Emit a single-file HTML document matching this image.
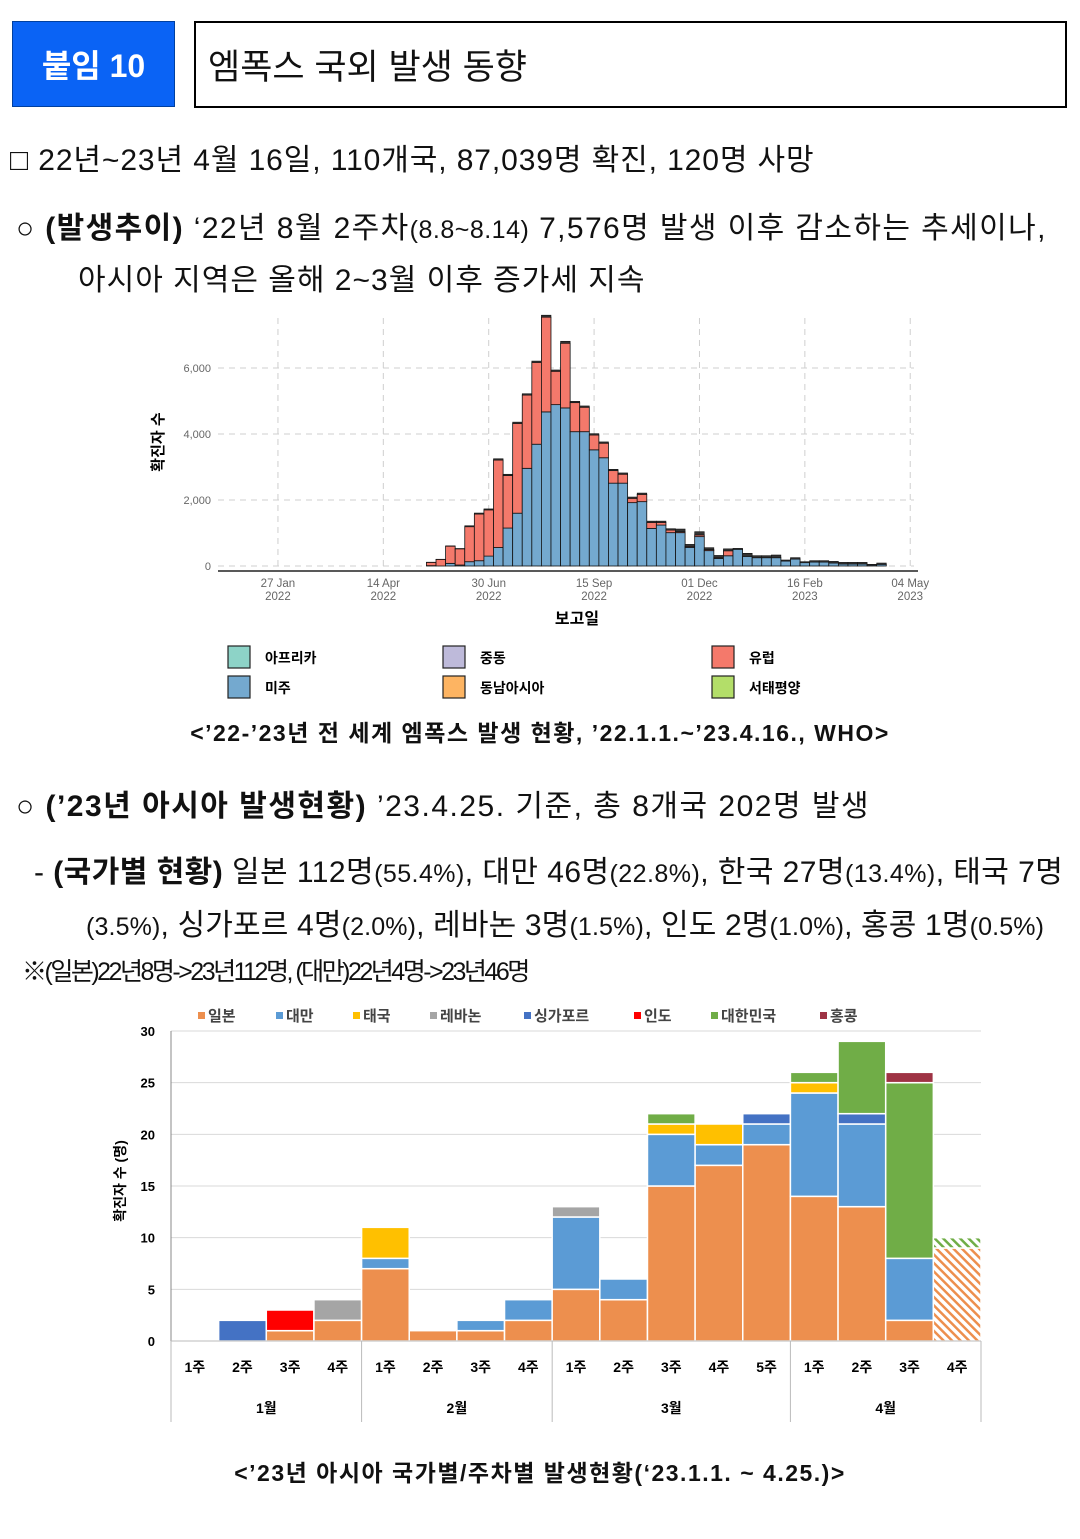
<!DOCTYPE html>
<html><head><meta charset="utf-8">
<style>
body{margin:0;width:1080px;height:1539px;position:relative;background:#fff;font-family:"Liberation Sans","Noto Sans CJK KR",sans-serif;color:#111;overflow:hidden}
.t{position:absolute;white-space:nowrap;line-height:1}
.s{font-size:25px}
svg{position:absolute;left:0;top:0}
</style></head><body>
<div style="position:absolute;left:12px;top:21px;width:163px;height:86px;background:#0a63f5;border:1px solid #0040a0;box-sizing:border-box;color:#fff;font-weight:bold;font-size:32px;display:flex;align-items:center;justify-content:center;font-family:'Liberation Sans','Noto Sans CJK KR',sans-serif">붙임 10</div>
<div style="position:absolute;left:194px;top:21px;width:873px;height:87px;border:2px solid #000;box-sizing:border-box;font-size:35px;padding-left:12px;display:flex;align-items:center">엠폭스 국외 발생 동향</div>
<div class="t" style="left:10px;top:146px;font-size:30px;letter-spacing:0.9px">□ 22년~23년 4월 16일, 110개국, 87,039명 확진, 120명 사망</div>
<div class="t" style="left:16px;top:214px;font-size:30px;letter-spacing:1.4px">○ <b>(발생추이)</b> ‘22년 8월 2주차<span class="s" style="letter-spacing:0.5px">(8.8~8.14)</span> 7,576명 발생 이후 감소하는 추세이나,</div>
<div class="t" style="left:78px;top:266px;font-size:30px;letter-spacing:1px">아시아 지역은 올해 2~3월 이후 증가세 지속</div>
<div class="t" style="left:0;width:1080px;text-align:center;top:722px;font-size:23px;font-weight:bold;letter-spacing:1.5px">&lt;’22-’23년 전 세계 엠폭스 발생 현황, ’22.1.1.~’23.4.16., WHO&gt;</div>
<div class="t" style="left:16px;top:792px;font-size:30px;letter-spacing:1.5px">○ <b>(’23년 아시아 발생현황)</b> ’23.4.25. 기준, 총 8개국 202명 발생</div>
<div class="t" style="left:34px;top:858px;font-size:30px;letter-spacing:0.45px">- <b>(국가별 현황)</b> 일본 112명<span class="s">(55.4%)</span>, 대만 46명<span class="s">(22.8%)</span>, 한국 27명<span class="s">(13.4%)</span>, 태국 7명</div>
<div class="t" style="left:86px;top:911px;font-size:30px;letter-spacing:0.15px"><span class="s">(3.5%)</span>, 싱가포르 4명<span class="s">(2.0%)</span>, 레바논 3명<span class="s">(1.5%)</span>, 인도 2명<span class="s">(1.0%)</span>, 홍콩 1명<span class="s">(0.5%)</span></div>
<div class="t" style="left:22px;top:960px;font-size:25px;letter-spacing:-2.5px">※(일본)22년8명-&gt;23년112명, (대만)22년4명-&gt;23년46명</div>
<div class="t" style="left:0;width:1080px;text-align:center;top:1462px;font-size:23px;font-weight:bold;letter-spacing:1.5px">&lt;’23년 아시아 국가별/주차별 발생현황(‘23.1.1. ~ 4.25.)&gt;</div>

<svg id="c" width="1080" height="1539">
<defs><pattern id="hatchO" width="6" height="6" patternUnits="userSpaceOnUse" patternTransform="rotate(-45)"><rect width="6" height="6" fill="#fff"/><rect width="2.5" height="6" fill="#ed8f4e"/></pattern>
<pattern id="hatchG" width="6" height="6" patternUnits="userSpaceOnUse" patternTransform="rotate(-45)"><rect width="6" height="6" fill="#fff"/><rect width="2.5" height="6" fill="#70ad47"/></pattern></defs>
</svg>
<script>
// ---- chart 1 data (weekly, from Jan 2022)
const c1Americas=[0,0,0,0,0,0,0,0,0,0,0,0,0,0,0,0,0,0,10,0,80,30,130,160,300,560,1150,1600,2960,3690,4670,4890,4790,4070,4070,3520,3280,2510,2510,1920,1950,1140,1240,1010,1010,565,890,465,230,310,505,290,250,250,250,150,210,100,120,120,90,60,60,60,30,50];
const c1Europe=[0,0,0,0,0,0,0,0,0,0,0,0,0,0,0,0,0,0,100,200,520,490,1060,1415,1400,2650,1590,2720,2220,2480,2870,1010,1960,880,740,450,440,380,270,130,220,180,80,80,30,30,50,30,30,150,0,0,0,0,0,0,0,0,0,0,0,0,0,0,0,0];
const c1Other=[0,0,0,0,0,0,0,0,0,0,0,0,0,0,0,0,0,0,5,5,10,10,30,30,30,40,40,40,40,40,60,40,60,40,40,40,40,40,40,40,40,40,40,40,80,60,100,60,60,60,30,95,63,63,83,32,43,31,42,42,50,50,50,50,20,40];
const c1YTicks=[0,2000,4000,6000];
const c1YLabels=["0","2,000","4,000","6,000"];
const c1XTickWeeks=[2.5,13.5,24.5,35.5,46.5,57.5,68.5];
const c1XLabels=[["27 Jan","2022"],["14 Apr","2022"],["30 Jun","2022"],["15 Sep","2022"],["01 Dec","2022"],["16 Feb","2023"],["04 May","2023"]];
// ---- chart 2 data
const c2Weeks=["1주","2주","3주","4주","1주","2주","3주","4주","1주","2주","3주","4주","5주","1주","2주","3주","4주"];
const c2Months=["1월","2월","3월","4월"];
const c2MonthSpan=[4,4,5,4];
const c2Names=["일본","대만","태국","레바논","싱가포르","인도","대한민국","홍콩"];
const c2Japan=[0,0,1,2,7,1,1,2,5,4,15,17,19,14,13,2,9];
const c2Taiwan=[0,0,0,0,1,0,1,2,7,2,5,2,2,10,8,6,0];
const c2Thai=[0,0,0,0,3,0,0,0,0,0,1,2,0,1,0,0,0];
const c2Lebanon=[0,0,0,2,0,0,0,0,1,0,0,0,0,0,0,0,0];
const c2Singapore=[0,2,0,0,0,0,0,0,0,0,0,0,1,0,1,0,0];
const c2India=[0,0,2,0,0,0,0,0,0,0,0,0,0,0,0,0,0];
const c2Korea=[0,0,0,0,0,0,0,0,0,0,1,0,0,1,7,17,1];
const c2HK=[0,0,0,0,0,0,0,0,0,0,0,0,0,0,0,1,0];
const c2YTicks=[0,5,10,15,20,25,30];

const svg=document.getElementById('c');const NS='http://www.w3.org/2000/svg';
function mk(tag,at,txt){const e=document.createElementNS(NS,tag);for(const k in at)e.setAttribute(k,at[k]);if(txt!==undefined)e.textContent=txt;svg.appendChild(e);return e;}
const F='Liberation Sans, Noto Sans CJK KR, sans-serif';

// chart 1 scales
const x1=w=>254+w*9.58, y1=v=>566-v*0.033;
c1YTicks.forEach((v,i)=>{
  let g=mk('line',{x1:218,x2:914,y1:y1(v),y2:y1(v),stroke:'#cfcfcf','stroke-dasharray':'6,5'});
  
  
  let t=mk('text',{x:211,y:y1(v)+4,'text-anchor':'end','font-size':11,fill:'#666','font-family':F},c1YLabels[i]);
  
  
});
c1XTickWeeks.forEach((w,i)=>{
  let g=mk('line',{x1:x1(w),x2:x1(w),y1:318,y2:566,stroke:'#cfcfcf','stroke-dasharray':'6,5'});
  
  
  let t=mk('text',{x:x1(w),y:587,'text-anchor':'middle','font-size':11.5,fill:'#666','font-family':F},c1XLabels[i][0]);
  
  
  let t2=mk('text',{x:x1(w),y:600,'text-anchor':'middle','font-size':11.5,fill:'#666','font-family':F},c1XLabels[i][1]);
  
  
});
c1Americas.forEach((a,i)=>{
  const e=c1Europe[i],o=c1Other[i],x=x1(i),w=9.58;
  let r=mk('rect',{x:x,y:y1(a),width:w,height:y1(0)-y1(a),fill:'#74a9cf',stroke:'#111','stroke-width':0.8});
  
  
  let r2=mk('rect',{x:x,y:y1(a+e),width:w,height:y1(a)-y1(a+e),fill:'#f4796b',stroke:'#111','stroke-width':0.8});
  
  
  let r3=mk('rect',{x:x,y:y1(a+e+o),width:w,height:y1(a+e)-y1(a+e+o),fill:'#333',stroke:'#111','stroke-width':0.6});
  
  
});
let ax=mk('line',{x1:218,x2:918,y1:571,y2:571,stroke:'#222','stroke-width':1.5});


let xt=mk('text',{x:577,y:624,'text-anchor':'middle','font-size':16,'font-weight':'bold','font-family':F},'보고일');


let yt=mk('text',{x:0,y:0,transform:'translate(163,442) rotate(-90)','text-anchor':'middle','font-size':15,'font-weight':'bold','font-family':F},'확진자 수');


const lg1=[["아프리카","#8dd3c7",228,646],["미주","#74a9cf",228,676],["중동","#bebada",443,646],["동남아시아","#fdb462",443,676],["유럽","#f4796b",712,646],["서태평양","#b3de69",712,676]];
lg1.forEach(l=>{
  let r=mk('rect',{x:l[2],y:l[3],width:22,height:22,fill:l[1],stroke:'#222','stroke-width':1.2});
  
  
  let t=mk('text',{x:l[2]+37,y:l[3]+17,'font-size':14,'font-weight':'bold','font-family':F},l[0]);
  
  
});

// chart 2
const x2=i=>171+i*(810/17), y2=v=>1341-v*(310/30), bw=810/17;
c2YTicks.forEach(v=>{
  let g=mk('line',{x1:171,x2:981,y1:y2(v),y2:y2(v),stroke:'#d9d9d9','stroke-width':1});
  
  
  let t=mk('text',{x:155,y:y2(v)+5,'text-anchor':'end','font-size':13,'font-weight':'bold','font-family':F},v);
  
  
});
const series=[c2Japan,c2Taiwan,c2Thai,c2Lebanon,c2Singapore,c2India,c2Korea,c2HK];
const cols=["#ed8f4e","#5b9bd5","#ffc000","#a5a5a5","#4472c4","#ff0000","#70ad47","#9e3344"];
c2Weeks.forEach((w,i)=>{
  let acc=0;const last=i===c2Weeks.length-1;
  series.forEach((s,k)=>{
    if(!s[i])return;
    let fill=cols[k];
    if(last)fill=k===0?'url(#hatchO)':'url(#hatchG)';
    let r=mk('rect',{x:x2(i),y:y2(acc+s[i]),width:bw,height:y2(acc)-y2(acc+s[i]),fill:fill,stroke:'#fff','stroke-width':1.5});
    
    
    acc+=s[i];
  });
  let t=mk('text',{x:x2(i)+bw/2,y:1372,'text-anchor':'middle','font-size':14,'font-weight':'bold','font-family':F},w);
  
  
});
let pos=0;
[0].concat(c2MonthSpan).forEach((s,i)=>{pos+=s;
  let l=mk('line',{x1:x2(pos),x2:x2(pos),y1:1341,y2:1422,stroke:'#bbb'});
  
  
});
pos=0;
c2Months.forEach((m,i)=>{
  let t=mk('text',{x:x2(pos+c2MonthSpan[i]/2),y:1413,'text-anchor':'middle','font-size':14,'font-weight':'bold','font-family':F},m);
  
  
  pos+=c2MonthSpan[i];
});
let ax2=mk('line',{x1:171,x2:171,y1:1031,y2:1341,stroke:'#888'});


let ax3=mk('line',{x1:171,x2:981,y1:1341,y2:1341,stroke:'#bbb'});


let yt2=mk('text',{x:0,y:0,transform:'translate(125,1181) rotate(-90)','text-anchor':'middle','font-size':14,'font-weight':'bold','font-family':F},'확진자 수 (명)');


const lgx=[198,276,353,430,524,634,711,820];
c2Names.forEach((n,k)=>{
  let r=mk('rect',{x:lgx[k],y:1012,width:7,height:7,fill:cols[k]});
  
  
  let t=mk('text',{x:lgx[k]+10,y:1021,'font-size':15,'font-weight':'bold',fill:'#444','font-family':F},n);
  
  
});
</script>
</body></html>
